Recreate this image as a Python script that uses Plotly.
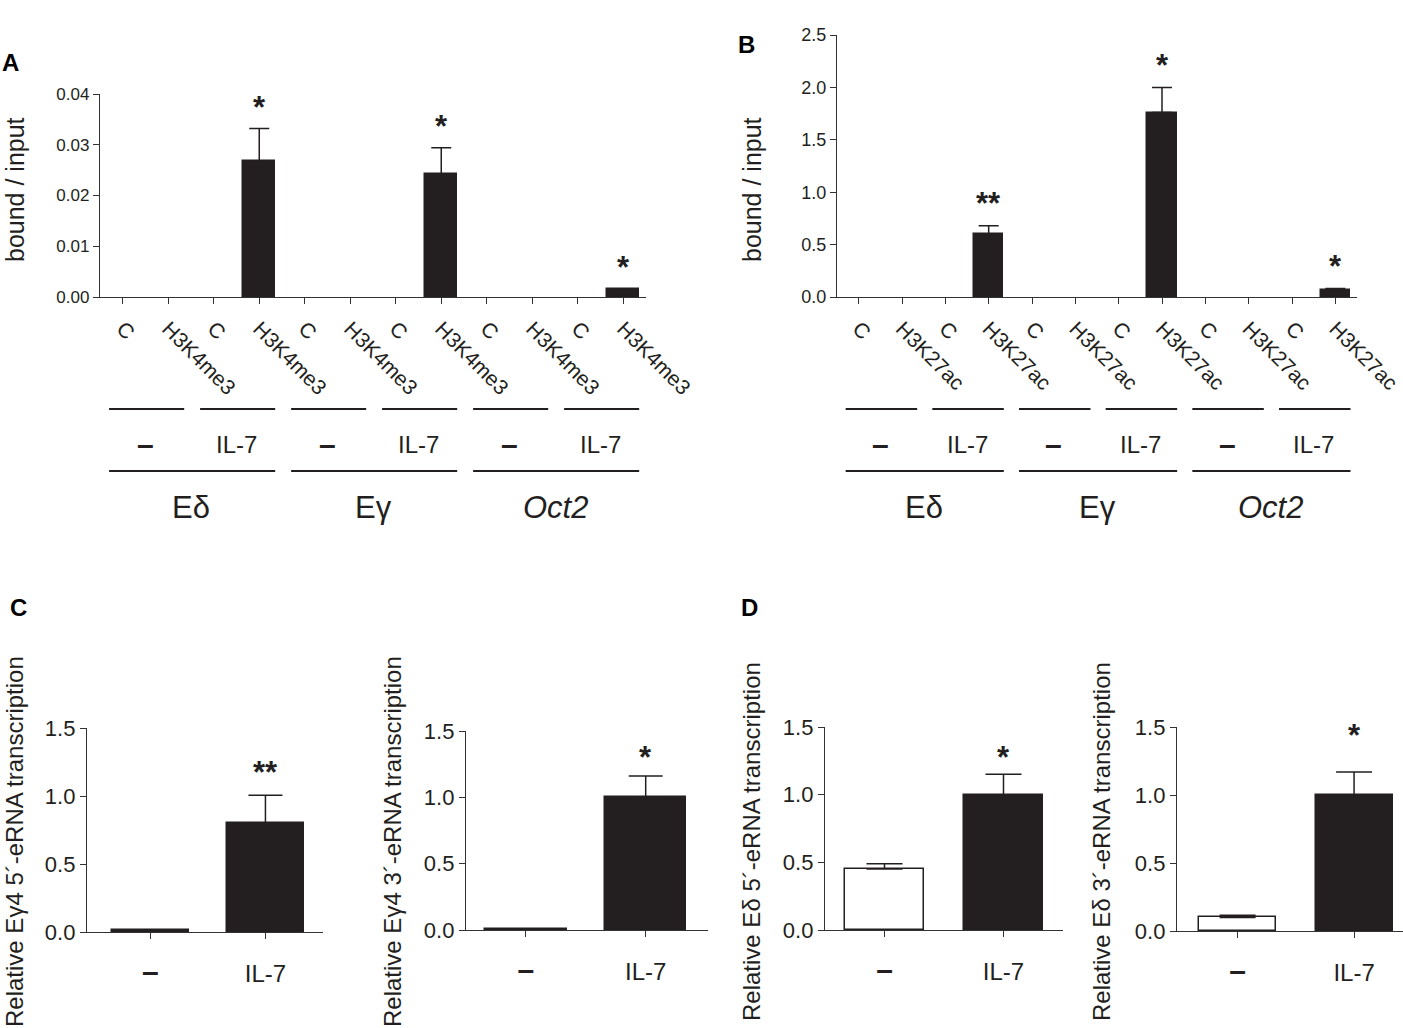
import plotly.graph_objects as go

W, H = 1403, 1028
FONT = "Liberation Sans, Arial, sans-serif"
INK = "#231f20"

# ---- data -------------------------------------------------------------
# A: ChIP H3K4me3 (bound / input)
a_labels = ["C", "H3K4me3"] * 6
a_values = [0, 0, 0, 0.0268, 0, 0, 0, 0.0242, 0, 0, 0, 0.0015]
a_errors = [0, 0, 0, 0.0064, 0, 0, 0, 0.0052, 0, 0, 0, 0.0001]
a_stars = ["", "", "", "*", "", "", "", "*", "", "", "", "*"]

# B: ChIP H3K27ac (bound / input)
b_labels = ["C", "H3K27ac"] * 6
b_values = [0, 0, 0, 0.60, 0, 0, 0, 1.76, 0, 0, 0, 0.07]
b_errors = [0, 0, 0, 0.08, 0, 0, 0, 0.24, 0, 0, 0, 0.01]
b_stars = ["", "", "", "**", "", "", "", "*", "", "", "", "*"]

treatments = ["-", "IL-7"]
regions = ["Eδ", "Eγ", "<i>Oct2</i>"]

# C: Eγ4 eRNA transcription
c1_values = [0.015, 0.80]
c1_errors = [0.002, 0.205]
c1_stars = ["", "**"]
c2_values = [0.005, 1.00]
c2_errors = [0.001, 0.16]
c2_stars = ["", "*"]

# D: Eδ eRNA transcription
d1_values = [0.45, 1.00]
d1_errors = [0.04, 0.15]
d1_stars = ["", "*"]
d2_values = [0.10, 1.00]
d2_errors = [0.015, 0.17]
d2_stars = ["", "*"]


def px_x(px):
    return px / W


def px_y(py):
    return 1 - py / H


def dash_text(t, size):
    # the "-" condition is printed as a short heavy bar
    if t == "-":
        return f"<span style='font-size:{size}px'><b>–</b></span>"
    return t


fig = go.Figure()
annotations = []
shapes = []


def add_bar_panel(n, x_px, y_px, xrange, yrange, dtick, fmt, values, errors,
                  colors, stars, star_shift, ticktext, tick_size, ytick_size,
                  bar_width, tickangle=0, standoff=8, cap=10):
    xa = "x" if n == 1 else f"x{n}"
    ya = "y" if n == 1 else f"y{n}"
    idx = list(range(len(values)))
    fig.add_trace(go.Bar(
        x=idx, y=values, width=bar_width,
        marker=dict(color=colors,
                    line=dict(color=INK, width=[1.5 if v else 0 for v in values])),
        xaxis=xa, yaxis=ya, showlegend=False, hoverinfo="skip",
    ))
    # upper error bars only where an error was measured
    err_idx = [i for i in idx if errors[i]]
    fig.add_trace(go.Scatter(
        x=err_idx, y=[values[i] for i in err_idx], mode="markers",
        marker=dict(size=1, color="rgba(0,0,0,0)"),
        error_y=dict(type="data", symmetric=False,
                     array=[errors[i] for i in err_idx],
                     arrayminus=[0] * len(err_idx), color=INK,
                     thickness=1.5, width=cap),
        xaxis=xa, yaxis=ya, showlegend=False,
    ))
    axis_common = dict(
        showline=True, linecolor="#333", linewidth=1.3,
        ticks="outside", ticklen=6, tickwidth=1.3, tickcolor="#333",
        showgrid=False, zeroline=False, automargin=False,
    )
    fig.update_layout({
        ("xaxis" if n == 1 else f"xaxis{n}"): dict(
            axis_common, domain=[px_x(x_px[0]), px_x(x_px[1])],
            range=xrange, anchor=ya, tickvals=idx, ticktext=ticktext,
            tickangle=tickangle, ticklabelstandoff=standoff,
            tickfont=dict(family=FONT, size=tick_size, color=INK),
        ),
        ("yaxis" if n == 1 else f"yaxis{n}"): dict(
            axis_common, domain=[px_y(y_px[1]), px_y(y_px[0])],
            range=yrange, anchor=xa, dtick=dtick, tickformat=fmt, tick0=0,
            tickfont=dict(family=FONT, size=ytick_size, color=INK),
        ),
    })
    for i, s in enumerate(stars):
        if s:
            annotations.append(dict(
                x=i, y=values[i] + errors[i], xref=xa, yref=ya,
                text=f"<b>{s}</b>", showarrow=False,
                xanchor="center", yanchor="middle",
                yshift=star_shift, font=dict(family=FONT, size=31, color=INK),
            ))
    return xa


def add_group_labels(xa):
    # treatment brackets
    for g in range(6):
        shapes.append(dict(type="line", xref=xa, yref="paper",
                           x0=2 * g - 0.3, x1=2 * g + 1.35,
                           y0=px_y(409), y1=px_y(409),
                           line=dict(color=INK, width=2)))
        annotations.append(dict(x=2 * g + 0.5, y=px_y(444), xref=xa, yref="paper",
                                text=dash_text(treatments[g % 2], 30),
                                showarrow=False, xanchor="center", yanchor="middle",
                                font=dict(family=FONT, size=24, color=INK)))
    for k in range(3):
        shapes.append(dict(type="line", xref=xa, yref="paper",
                           x0=4 * k - 0.3, x1=4 * k + 3.35,
                           y0=px_y(471), y1=px_y(471),
                           line=dict(color=INK, width=2)))
        annotations.append(dict(x=4 * k + 1.5, y=px_y(507), xref=xa, yref="paper",
                                text=regions[k], showarrow=False,
                                xanchor="center", yanchor="middle",
                                font=dict(family=FONT, size=31, color=INK)))


dash_ticks = [dash_text(t, 30) for t in treatments]

xa = add_bar_panel(1, (100, 646), (94, 297), [-0.5, 11.5], [0, 0.04], 0.01, ".2f",
                   a_values, a_errors, INK, a_stars, 21, a_labels, 21, 17, 0.7,
                   tickangle=45, standoff=4, cap=10)
add_group_labels(xa)
xa = add_bar_panel(2, (837, 1357), (35, 297), [-0.5, 11.5], [0, 2.5], 0.5, ".1f",
                   b_values, b_errors, INK, b_stars, 22, b_labels, 21, 18, 0.68,
                   tickangle=45, standoff=4, cap=10)
add_group_labels(xa)
add_bar_panel(3, (87, 323), (728, 932), [-0.55, 1.5], [0, 1.5], 0.5, ".1f",
              c1_values, c1_errors, [INK, INK], c1_stars, 23, dash_ticks, 24, 22,
              0.67, standoff=14, cap=17)
add_bar_panel(4, (466, 708), (731, 930), [-0.5, 1.52], [0, 1.5], 0.5, ".1f",
              c2_values, c2_errors, [INK, INK], c2_stars, 19, dash_ticks, 24, 22,
              0.68, standoff=14, cap=17)
add_bar_panel(5, (825, 1063), (727, 930), [-0.5, 1.5], [0, 1.5], 0.5, ".1f",
              d1_values, d1_errors, ["white", INK], d1_stars, 17, dash_ticks, 24, 22,
              0.66, standoff=14, cap=18)
add_bar_panel(6, (1177, 1403), (727, 931), [-0.52, 1.42], [0, 1.5], 0.5, ".1f",
              d2_values, d2_errors, ["white", INK], d2_stars, 36, dash_ticks, 24, 22,
              0.66, standoff=14, cap=18)

# y-axis titles
ytitles = [
    ("bound / input", 15, 190, 25),
    ("bound / input", 752, 190, 25),
    ("Relative Eγ4 5´-eRNA transcription", 14, 842, 24),
    ("Relative Eγ4 3´-eRNA transcription", 392, 842, 24),
    ("Relative Eδ 5´-eRNA transcription", 751, 842, 24),
    ("Relative Eδ 3´-eRNA transcription", 1101, 842, 24),
]
for text, x, y, size in ytitles:
    annotations.append(dict(x=px_x(x), y=px_y(y), xref="paper", yref="paper",
                            text=text, textangle=-90, showarrow=False,
                            xanchor="center", yanchor="middle",
                            font=dict(family=FONT, size=size, color=INK)))

# panel letters
for letter, x, y in [("A", 10, 62), ("B", 746, 45), ("C", 18, 607), ("D", 750, 607)]:
    annotations.append(dict(x=px_x(x), y=px_y(y), xref="paper", yref="paper",
                            text=f"<b>{letter}</b>", showarrow=False,
                            xanchor="center", yanchor="middle",
                            font=dict(family=FONT, size=24, color="black")))

fig.update_layout(
    width=W, height=H,
    margin=dict(l=0, r=0, t=0, b=0),
    paper_bgcolor="white", plot_bgcolor="white",
    font=dict(family=FONT, color=INK),
    annotations=annotations, shapes=shapes,
    bargap=0, showlegend=False,
)

fig.write_html("out.html", config={"displayModeBar": False},
               post_script="document.body.style.margin='0';")
